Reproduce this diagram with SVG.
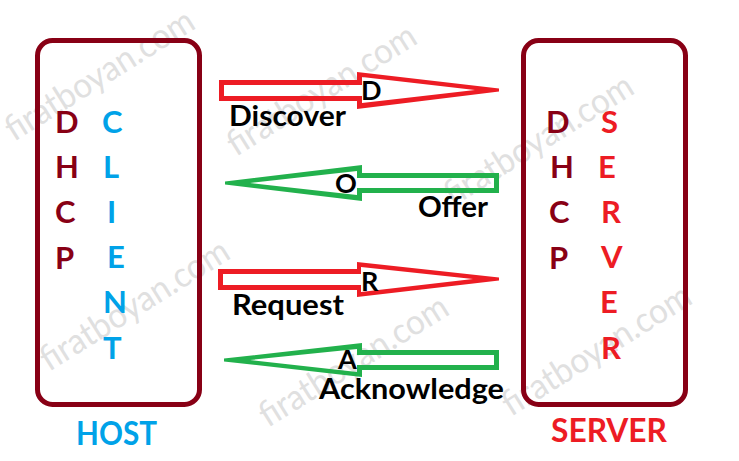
<svg xmlns="http://www.w3.org/2000/svg" width="739" height="461" viewBox="0 0 739 461">
<style>
text{font-family:Lato,"Open Sans",sans-serif;font-weight:700}
.w{font-size:35px;font-weight:400;fill:#e0e0e0}
.box{fill:none;stroke:#880015;stroke-width:5}
.m{fill:#880015;font-size:31px}
.b{fill:#00a2e8;font-size:31px}
.r{fill:#ed1c24;font-size:31px}
.l{fill:#000;font-size:29px}
.a{fill:#000;font-size:27px}
.t{font-size:32px}
.red{fill:#ed1c24;fill-rule:evenodd}
.green{fill:#22b14c;fill-rule:evenodd}
</style>
<rect width="739" height="461" fill="#fff"/>
<g id="watermarks">
<text class="w" textLength="216" lengthAdjust="spacingAndGlyphs" transform="translate(14 142) rotate(-32)">firatboyan.com</text>
<text class="w" textLength="216" lengthAdjust="spacingAndGlyphs" transform="translate(236 157) rotate(-32)">firatboyan.com</text>
<text class="w" textLength="216" lengthAdjust="spacingAndGlyphs" transform="translate(49 372) rotate(-32)">firatboyan.com</text>
<text class="w" textLength="216" lengthAdjust="spacingAndGlyphs" transform="translate(268 428) rotate(-32)">firatboyan.com</text>
<text class="w" textLength="216" lengthAdjust="spacingAndGlyphs" transform="translate(453 207) rotate(-32)">firatboyan.com</text>
<text class="w" textLength="216" lengthAdjust="spacingAndGlyphs" transform="translate(511 417) rotate(-32)">firatboyan.com</text>
</g>
<g id="host">
<rect class="box" x="37.5" y="40.5" width="162" height="364" rx="15"/>
<text class="m" x="55" y="133">D</text><text class="m" x="55" y="178">H</text><text class="m" x="55" y="223">C</text><text class="m" x="55" y="269">P</text>
<text class="b" x="102" y="133">C</text><text class="b" x="103" y="178">L</text><text class="b" x="107" y="223">I</text><text class="b" x="107" y="268">E</text><text class="b" x="103" y="313">N</text><text class="b" x="103" y="359">T</text>
<text class="b t" x="76" y="445" textLength="81" lengthAdjust="spacingAndGlyphs">HOST</text>
</g>
<g id="server">
<rect class="box" x="523.5" y="40.5" width="162" height="364" rx="15"/>
<text class="m" x="546" y="133">D</text><text class="m" x="550" y="178">H</text><text class="m" x="549" y="223">C</text><text class="m" x="549" y="269">P</text>
<text class="r" x="601" y="133">S</text><text class="r" x="598" y="178">E</text><text class="r" x="601" y="223">R</text><text class="r" x="601" y="268">V</text><text class="r" x="600" y="313">E</text><text class="r" x="601" y="359">R</text>
<text class="r t" x="551" y="442" textLength="116" lengthAdjust="spacingAndGlyphs">SERVER</text>
</g>
<g id="connectors">
<g id="discover">
<path class="red" d="M219 80H357V72L499 88.500V91.500L357 109V101H219ZM224 85V96H362V103L475 90L362 77V85Z"/>
<text class="a" x="361" y="100">D</text><text class="l" x="229" y="126" textLength="117" lengthAdjust="spacingAndGlyphs">Discover</text>
</g>
<g id="offer">
<path class="green" d="M225 181.500L362 165V173H499V193H362V201L225 184.500ZM250 183L357 195V188H494V178H357V171Z"/>
<text class="a" x="335" y="193">O</text><text class="l" x="418" y="217" textLength="70" lengthAdjust="spacingAndGlyphs">Offer</text>
</g>
<g id="request">
<path class="red" d="M218 269H357V262L499 277.500V280.500L357 297V290H218ZM223 274V285H361V292L473 279L361 267V274Z"/>
<text class="a" x="361" y="291">R</text><text class="l" x="232" y="315" textLength="112" lengthAdjust="spacingAndGlyphs">Request</text>
</g>
<g id="acknowledge">
<path class="green" d="M224 358.500L362 343V350H499V370H362V377L224 361.500ZM250 360L357 372V365H494V355H357V349Z"/>
<text class="a" x="338" y="369">A</text><text class="l" x="319" y="399" textLength="185" lengthAdjust="spacingAndGlyphs">Acknowledge</text>
</g>
</g>
</svg>
